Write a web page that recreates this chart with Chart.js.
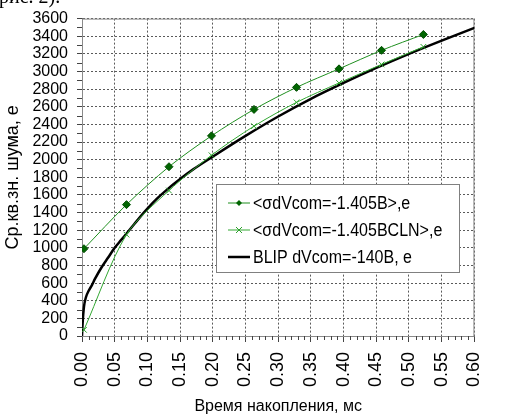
<!DOCTYPE html>
<html>
<head>
<meta charset="utf-8">
<script src="https://cdn.jsdelivr.net/npm/chart.js@4.4.1/dist/chart.umd.min.js"></script>
<style>
  html, body { margin: 0; padding: 0; background: #fff; }
  #wrap { position: relative; width: 506px; height: 415px; overflow: hidden; }
  #cut { position: absolute; left: -1px; top: -15px; font: 20px "Liberation Serif", "Times New Roman", serif; color: #000; white-space: nowrap; z-index: 2; }
  canvas { position: absolute; left: 0; top: 0; }
</style>
</head>
<body>
<div id="wrap">
  <div id="cut">рис. 2).</div>
  <canvas id="c" width="506" height="415"></canvas>
</div>
<script>
// ---- data ----
const seriesLabels = ['<σdVcom=-1.405B>,e', '<σdVcom=-1.405BCLN>,e', 'BLIP dVcom=-140B, e'];
const sampleTimes = [0.003, 0.068, 0.133, 0.198, 0.263, 0.328, 0.393, 0.458, 0.522];
const sigmaValues = [990, 1490, 1920, 2270, 2570, 2820, 3030, 3240, 3420];
const sigmaClnValues = [70, 1150, 1650, 2050, 2380, 2650, 2870, 3080, 3280];
const blipTimes = [0, 0.001, 0.003, 0.006, 0.01, 0.015, 0.02, 0.03, 0.04, 0.05, 0.06, 0.07, 0.08, 0.09, 0.1, 0.115, 0.13, 0.15, 0.17, 0.2, 0.25, 0.3, 0.35, 0.4, 0.45, 0.5, 0.55, 0.6];
const blipValues = [0, 150, 330, 440, 510, 575, 650, 780, 890, 1000, 1090, 1180, 1270, 1360, 1445, 1560, 1660, 1780, 1890, 2035, 2270, 2490, 2690, 2870, 3040, 3200, 3350, 3495];
const xTickStep = 0.05, xMinorStep = 0.01;
const yTickStep = 200, yMinorStep = 100;
const xTitle = 'Время накопления, мс';
const yTitle = 'Ср.кв.зн. шума, е';

const toPts = (xs, ys) => xs.map((x, i) => ({ x: x, y: ys[i] }));

const REG = '"Liberation Sans", Arial, sans-serif';

const decor = {
  id: 'decor',
  beforeDatasetsDraw(chart) {
    const { ctx, chartArea: a, scales: { x, y } } = chart;
    ctx.save();
    ctx.strokeStyle = '#8a8a8a';
    ctx.lineWidth = 1;
    ctx.strokeRect(a.left + 0.5, a.top + 0.5, a.right - a.left - 1, a.bottom - a.top);
    ctx.strokeStyle = '#444';
    ctx.beginPath();
    const per = Math.round(xTickStep / xMinorStep);
    for (let k = 1; k * xMinorStep < x.max - 1e-9; k++) {
      if (k % per === 0) continue;
      const px = Math.round(x.getPixelForValue(k * xMinorStep)) + 0.5;
      ctx.moveTo(px, a.bottom); ctx.lineTo(px, a.bottom + 4);
    }
    for (let v = yMinorStep; v < y.max; v += yTickStep) {
      const py = Math.round(y.getPixelForValue(v)) + 0.5;
      ctx.moveTo(a.left - 5, py); ctx.lineTo(a.left, py);
    }
    ctx.stroke();
    ctx.restore();
  }
};

const legendBox = {
  id: 'legendBox',
  afterDraw(chart) {
    const { ctx, chartArea: a } = chart;
    const bx = a.left + 134, by = 184, bw = 243, bh = 88;
    ctx.save();
    ctx.fillStyle = '#fff';
    ctx.fillRect(bx, by, bw, bh);
    ctx.strokeStyle = '#808080';
    ctx.lineWidth = 1;
    ctx.strokeRect(bx + 0.5, by + 0.5, bw, bh);
    ctx.font = '18px ' + REG;
    ctx.textBaseline = 'middle';
    chart.data.datasets.forEach((ds, i) => {
      const cy = by + 19 + i * 27;
      const x0 = bx + 12, x1 = bx + 34, mx = bx + 23;
      ctx.strokeStyle = ds.borderColor;
      ctx.lineWidth = ds.borderWidth;
      ctx.beginPath(); ctx.moveTo(x0, cy); ctx.lineTo(x1, cy); ctx.stroke();
      if (ds.pointStyle === 'rectRot') {
        const r = 3;
        ctx.fillStyle = ds.pointBackgroundColor;
        ctx.beginPath();
        ctx.moveTo(mx, cy - r); ctx.lineTo(mx + r, cy); ctx.lineTo(mx, cy + r); ctx.lineTo(mx - r, cy); ctx.closePath();
        ctx.fill();
      } else if (ds.pointStyle === 'crossRot') {
        const r = 3;
        ctx.strokeStyle = ds.pointBorderColor;
        ctx.lineWidth = 1;
        ctx.beginPath();
        ctx.moveTo(mx - r, cy - r); ctx.lineTo(mx + r, cy + r);
        ctx.moveTo(mx + r, cy - r); ctx.lineTo(mx - r, cy + r);
        ctx.stroke();
      }
      ctx.fillStyle = '#000';
      ctx.save();
      ctx.translate(x1 + 3, cy + 1);
      ctx.scale(0.89, 1);
      ctx.fillText(ds.label, 0, 0);
      ctx.restore();
    });
    ctx.restore();
  }
};

new Chart(document.getElementById('c'), {
  type: 'line',
  data: {
    datasets: [
      {
        label: seriesLabels[0],
        data: toPts(sampleTimes, sigmaValues),
        borderColor: '#1f8f1f', borderWidth: 1,
        pointStyle: 'rectRot', pointRadius: 4,
        pointBackgroundColor: '#006400', pointBorderColor: '#004d00', pointBorderWidth: 1,
        tension: 0.3
      },
      {
        label: seriesLabels[1],
        data: toPts(sampleTimes, sigmaClnValues),
        borderColor: '#33a833', borderWidth: 1,
        pointStyle: 'crossRot', pointRadius: 4,
        pointBackgroundColor: '#2ca02c', pointBorderColor: '#2ca02c', pointBorderWidth: 1,
        tension: 0.3
      },
      {
        label: seriesLabels[2],
        data: toPts(blipTimes, blipValues),
        borderColor: '#000', borderWidth: 2.5,
        pointRadius: 0,
        cubicInterpolationMode: 'monotone'
      }
    ]
  },
  options: {
    responsive: false,
    animation: false,
    devicePixelRatio: 1,
    layout: { padding: { left: 0, top: 16, right: 11, bottom: 0 } },
    plugins: { legend: { display: false }, tooltip: { enabled: false } },
    scales: {
      x: {
        type: 'linear', min: 0, max: 0.6,
        afterFit(s) { s.height = 79; },
        ticks: {
          stepSize: xTickStep, autoSkip: false, minRotation: 90, maxRotation: 90,
          padding: 10, color: '#000', font: { family: REG, size: 18 },
          callback: v => Number(v).toFixed(2)
        },
        grid: { color: '#5a5a5a', tickColor: '#444', tickLength: 6, lineWidth: 1 },
        border: { display: true, color: '#555', width: 1, dash: [2, 2] },
        title: { display: true, text: xTitle, color: '#000', font: { family: REG, size: 16, lineHeight: 1 }, padding: { top: 2, bottom: 0 } }
      },
      y: {
        type: 'linear', min: 0, max: 3600,
        afterFit(s) { s.width = 82; },
        ticks: {
          stepSize: yTickStep, autoSkip: false, padding: 9, color: '#000',
          font: { family: REG, size: 16 },
          callback: v => String(Math.round(v))
        },
        grid: { color: '#5a5a5a', tickColor: '#444', tickLength: 5, lineWidth: 1 },
        border: { display: true, color: '#555', width: 1, dash: [2, 2] },
        title: { display: true, text: yTitle, color: '#000', font: { family: REG, size: 18, lineHeight: 1 }, padding: { top: 4, bottom: 0 } }
      }
    }
  },
  plugins: [decor, legendBox]
});
</script>
</body>
</html>
